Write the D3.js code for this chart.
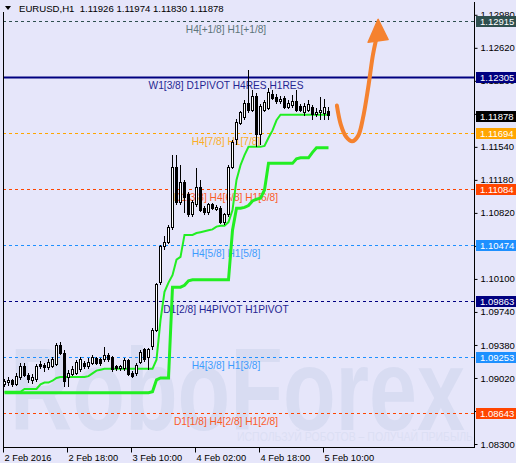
<!DOCTYPE html>
<html><head><meta charset="utf-8">
<script src="https://cdn.jsdelivr.net/npm/d3@7/dist/d3.min.js"></script>
<style>body{margin:0;background:#e6e6fa;} svg{display:block;font-family:"Liberation Sans",Arial,sans-serif;}</style>
</head><body><svg id="c" width="516" height="463"></svg>
<script>
// ---- data (EURUSD H1, bars from 2 Feb 2016 02:00) ----
const openP  = [1.0895,1.0897,1.0899,1.0895,1.0903,1.0915,1.0905,1.0899,1.0900,1.0917,1.0916,1.0913,1.0915,1.0917,1.0937,1.0929,1.0903,1.0906,1.0907,1.0911,1.0918,1.0914,1.0918,1.0923,1.0922,1.0922,1.0927,1.0924,1.0914,1.0912,1.0912,1.0921,1.0907,1.0907,1.0919,1.0933,1.0924,1.0936,1.0954,1.1006,1.1045,1.1050,1.1066,1.1132,1.1093,1.1115,1.1102,1.1080,1.1091,1.1110,1.1087,1.1082,1.1091,1.1086,1.1087,1.1072,1.1080,1.1132,1.1162,1.1180,1.1186,1.1201,1.1194,1.1209,1.1167,1.1194,1.1196,1.1211,1.1208,1.1203,1.1207,1.1197,1.1199,1.1204,1.1198,1.1191,1.1194,1.1197,1.1189,1.1191,1.1190,1.11926];
const highP  = [1.0901,1.0903,1.0901,1.0907,1.0918,1.0918,1.0907,1.0906,1.0917,1.0920,1.0918,1.0923,1.0925,1.0940,1.0941,1.0932,1.0911,1.0915,1.0922,1.0925,1.0920,1.0924,1.0927,1.0925,1.0924,1.0936,1.0929,1.0926,1.0916,1.0916,1.0924,1.0923,1.0910,1.0918,1.0933,1.0935,1.0935,1.0957,1.1006,1.1047,1.1057,1.1069,1.1145,1.1145,1.1134,1.1118,1.1105,1.1096,1.1131,1.1118,1.1089,1.1093,1.1093,1.1091,1.1089,1.1082,1.1134,1.1162,1.1184,1.1193,1.1205,1.1238,1.1216,1.1213,1.1201,1.1205,1.1218,1.1216,1.1212,1.1210,1.1210,1.1205,1.1211,1.1216,1.1201,1.1202,1.1205,1.1200,1.1196,1.1208,1.1206,1.11974];
const lowP   = [1.0892,1.0893,1.0892,1.0893,1.0900,1.0903,1.0897,1.0895,1.0898,1.0912,1.0908,1.0911,1.0913,1.0915,1.0927,1.0892,1.0892,1.0904,1.0905,1.0908,1.0912,1.0912,1.0916,1.0916,1.0915,1.0919,1.0919,1.0908,1.0910,1.0910,1.0910,1.0904,1.0902,1.0904,1.0917,1.0919,1.0911,1.0933,1.0952,1.1003,1.1042,1.1048,1.1063,1.1091,1.1091,1.1082,1.1078,1.1078,1.1088,1.1083,1.1080,1.1080,1.1085,1.1084,1.1070,1.1069,1.1078,1.1130,1.1156,1.1178,1.1183,1.1191,1.1192,1.1154,1.1156,1.1192,1.1194,1.1205,1.1201,1.1201,1.1195,1.1195,1.1196,1.1192,1.1192,1.1188,1.1192,1.1183,1.1187,1.1183,1.1183,1.11830];
const closeP = [1.0898,1.0899,1.0895,1.0904,1.0915,1.0905,1.0900,1.0903,1.0915,1.0914,1.0913,1.0919,1.0922,1.0937,1.0929,1.0898,1.0907,1.0911,1.0919,1.0922,1.0914,1.0919,1.0924,1.0918,1.0918,1.0926,1.0922,1.0911,1.0912,1.0914,1.0921,1.0906,1.0904,1.0916,1.0930,1.0922,1.0933,1.0954,1.1004,1.1045,1.1050,1.1066,1.1132,1.1093,1.1115,1.1099,1.1080,1.1093,1.1110,1.1085,1.1082,1.1091,1.1087,1.1088,1.1072,1.1080,1.1132,1.1159,1.1181,1.1191,1.1201,1.1194,1.1209,1.1167,1.1198,1.1202,1.1213,1.1207,1.1203,1.1206,1.1197,1.1201,1.1204,1.1194,1.1194,1.1198,1.1200,1.1189,1.1192,1.1194,1.1197,1.11878];

// green trailing lines
const lineFast = [1.0887,1.0887,1.0887,1.0887,1.0887,1.0890,1.0890,1.0890,1.0890,1.0895,1.0897,1.0897,1.0899,1.0902,1.0903,1.0903,1.0903,1.0903,1.0903,1.0903,1.0903,1.0904,1.0907,1.0910,1.0911,1.0912,1.0912,1.0912,1.0912,1.0912,1.0912,1.0912,1.0912,1.0912,1.0912,1.0912,1.0912,1.0912,1.0922,1.0965,1.0996,1.1006,1.1014,1.1031,1.1034,1.1058,1.1058,1.1058,1.1060,1.1061,1.1062,1.1063,1.1064,1.1067,1.1068,1.1068,1.1072,1.1085,1.1118,1.1134,1.1145,1.1154,1.1154,1.1154,1.1154,1.1155,1.1164,1.1172,1.1183,1.1189,1.1189,1.1189,1.1189,1.1189,1.1189,1.1189,1.1189,1.1189,1.1189,1.1189,1.1189,1.1189];
const lineSlow = [1.0886,1.0886,1.0886,1.0886,1.0886,1.0886,1.0886,1.0886,1.0886,1.0886,1.0886,1.0886,1.0886,1.0886,1.0886,1.0886,1.0886,1.0886,1.0886,1.0886,1.0886,1.0886,1.0886,1.0886,1.0886,1.0886,1.0886,1.0886,1.0886,1.0886,1.0886,1.0886,1.0886,1.0886,1.0886,1.0886,1.0886,1.0887,1.0900,1.0902,1.0902,1.0902,1.1001,1.1001,1.1001,1.1003,1.1008,1.1009,1.1009,1.1009,1.1009,1.1009,1.1009,1.1009,1.1009,1.1009,1.1009,1.1063,1.1087,1.1087,1.1088,1.1090,1.1095,1.1097,1.1098,1.1107,1.1136,1.1136,1.1136,1.1136,1.1136,1.1136,1.1136,1.1141,1.1142,1.1142,1.1142,1.1148,1.1153,1.1153,1.1153,1.1153];

// Murrey levels
const levelValues = [1.12915, 1.12305, 1.11694, 1.11084, 1.10474, 1.09863, 1.09253, 1.08643];
const levelLabels = ["H4[+1/8] H1[+1/8]", "W1[3/8] D1PIVOT H4RES H1RES", "H4[7/8] H1[7/8]", "D1[3/8] H4[6/8] H1[6/8]", "H4[5/8] H1[5/8]", "D1[2/8] H4PIVOT H1PIVOT", "H4[3/8] H1[3/8]", "D1[1/8] H4[2/8] H1[2/8]"];
const levelColors = ["#2f4f4f", "#000080", "#ffa500", "#ff4500", "#1e90ff", "#000080", "#1e90ff", "#ff4500"];
const levelSolid = [false, true, false, false, false, false, false, false];
const lastPrice = 1.11878;

const timeTickIdx = [0, 16, 32, 48, 64, 80];
const timeTickLabels = ["2 Feb 2016", "2 Feb 18:00", "3 Feb 10:00", "4 Feb 02:00", "4 Feb 18:00", "5 Feb 10:00"];
const priceTicks = [1.08300,1.08660,1.09020,1.09380,1.09740,1.10100,1.10460,1.10820,1.11180,1.11540,1.11900,1.12260,1.12620,1.12980];

// forecast arrow (bar index, price)
const arrowIdx   = [83.1, 84.1, 85.4, 86.9, 88.4, 89.6, 90.9, 92.1, 92.9];
const arrowPrice = [1.1199, 1.1178, 1.1165, 1.1160, 1.1166, 1.1185, 1.1218, 1.1254, 1.1271];
const arrowHeadIdx   = [93.4, 90.9, 95.9];
const arrowHeadPrice = [1.1293, 1.1268, 1.1271];

const title = "EURUSD,H1  1.11926 1.11974 1.11830 1.11878";

// ---- drawing ----
const svg = d3.select("#c");
const L = 3, R = 474, T = 2, B = 447;
const x = d3.scaleLinear().domain([0, 81]).range([4.5, 328.5]);
const y = d3.scaleLinear().domain([1.083, 1.1298]).range([444, 14.8]);

svg.append("rect").attr("width", 516).attr("height", 463).attr("fill", "#e6e6fa");

// watermark
svg.append("text").attr("x", 10).attr("y", 430).attr("font-size", 116).attr("font-weight", "bold")
  .attr("font-family", "'Liberation Sans',Arial,sans-serif")
  .attr("textLength", 455).attr("lengthAdjust", "spacingAndGlyphs")
  .attr("fill", "#d8dcf2").text("RoboForex");
svg.append("text").attr("x", 237).attr("y", 441).attr("font-size", 12)
  .attr("textLength", 236).attr("lengthAdjust", "spacingAndGlyphs")
  .attr("fill", "#dcdff4").text("ИСПОЛЬЗУЙ РОБОТОВ – ПОЛУЧАЙ ПРИБЫЛЬ");

// level lines + labels
const lv = svg.append("g");
levelValues.forEach((v, k) => {
  const yy = Math.round(y(v)) + 0.5;
  lv.append("line").attr("x1", L).attr("x2", R).attr("y1", yy).attr("y2", yy)
    .attr("stroke", levelColors[k]).attr("stroke-width", levelSolid[k] ? 2 : 1)
    .attr("stroke-dasharray", levelSolid[k] ? null : "3,3");
  lv.append("text").attr("x", 226).attr("y", yy + 11).attr("text-anchor", "middle")
    .attr("font-size", 10.2).attr("fill", levelColors[k]).attr("opacity", levelColors[k] === "#2f4f4f" ? 0.75 : 0.85)
    .text(levelLabels[k]);
});

// green lines
const ln = d3.line().x((d, i) => x(i)).y(d => y(d));
svg.append("path").attr("d", ln(lineSlow)).attr("fill", "none").attr("stroke", "#22ee22").attr("stroke-width", 3);
svg.append("path").attr("d", ln(lineFast)).attr("fill", "none").attr("stroke", "#22ee22").attr("stroke-width", 2);

// candles
const cg = svg.append("g").attr("shape-rendering", "crispEdges");
openP.forEach((o, i) => {
  const c = closeP[i], cx = x(i);
  cg.append("line").attr("x1", cx).attr("x2", cx).attr("y1", y(highP[i])).attr("y2", y(lowP[i])).attr("stroke", "#000");
  const top = y(Math.max(o, c)), bot = y(Math.min(o, c));
  cg.append("rect").attr("x", cx - 1).attr("width", 2).attr("y", top).attr("height", Math.max(bot - top, 1))
    .attr("fill", c >= o ? "#fff" : "#000").attr("stroke", "#000");
});

// arrow
const arrowPts = arrowIdx.map((v, k) => [x(v), y(arrowPrice[k])]);
svg.append("path").attr("d", d3.line().curve(d3.curveCatmullRom)(arrowPts))
  .attr("fill", "none").attr("stroke", "#f5822f").attr("stroke-width", 4).attr("stroke-linecap", "round");
svg.append("path").attr("d", d3.line()(arrowHeadIdx.map((v, k) => [x(v), y(arrowHeadPrice[k])])) + "Z")
  .attr("fill", "#f5822f").attr("stroke", "#f5822f").attr("stroke-width", 1.5).attr("stroke-linejoin", "round");

// frame
svg.append("path").attr("d", `M${L + 0.5},12V${B + 0.5}H${R + 0.5}V${T}`).attr("fill", "none").attr("stroke", "#000").attr("shape-rendering", "crispEdges");

// price axis
const ya = d3.axisRight(y).tickValues(priceTicks).tickSize(3).tickPadding(3).tickFormat(d3.format(".5f"));
const yg = svg.append("g").attr("transform", `translate(${R + 0.5},0)`).call(ya);
yg.select(".domain").remove();
yg.selectAll("text").attr("font-size", 9.5).attr("fill", "#000").attr("font-family", "'Liberation Sans',Arial,sans-serif");

// time axis
const xa = d3.axisBottom(x).tickValues(timeTickIdx).tickSize(5).tickFormat((d, k) => timeTickLabels[k]);
const xg = svg.append("g").attr("transform", `translate(-1.5,${B + 0.5})`).call(xa);
xg.select(".domain").remove();
xg.selectAll("text").attr("font-size", 9.3).attr("fill", "#000").attr("text-anchor", "start").attr("x", 1).attr("dy", "0.55em")
  .attr("font-family", "'Liberation Sans',Arial,sans-serif");

// price boxes
const boxes = levelValues.map((v, k) => ({v, col: levelColors[k]})).concat([{v: lastPrice, col: "#000"}]);
const bg = svg.append("g");
boxes.forEach(b => {
  const yy = y(b.v);
  bg.append("rect").attr("x", 476).attr("y", Math.round(yy) - 5).attr("width", 40).attr("height", 11).attr("fill", b.col);
  bg.append("text").attr("x", 480).attr("y", Math.round(yy) + 4).attr("font-size", 9.5).attr("fill", "#fff").text(d3.format(".5f")(b.v));
});

// title
svg.append("path").attr("d", "M5,6H11L8,10Z").attr("fill", "#000");
svg.append("text").attr("x", 19).attr("y", 12).attr("font-size", 9.6).attr("fill", "#000").attr("xml:space", "preserve").style("white-space", "pre").text(title);
</script></body></html>
